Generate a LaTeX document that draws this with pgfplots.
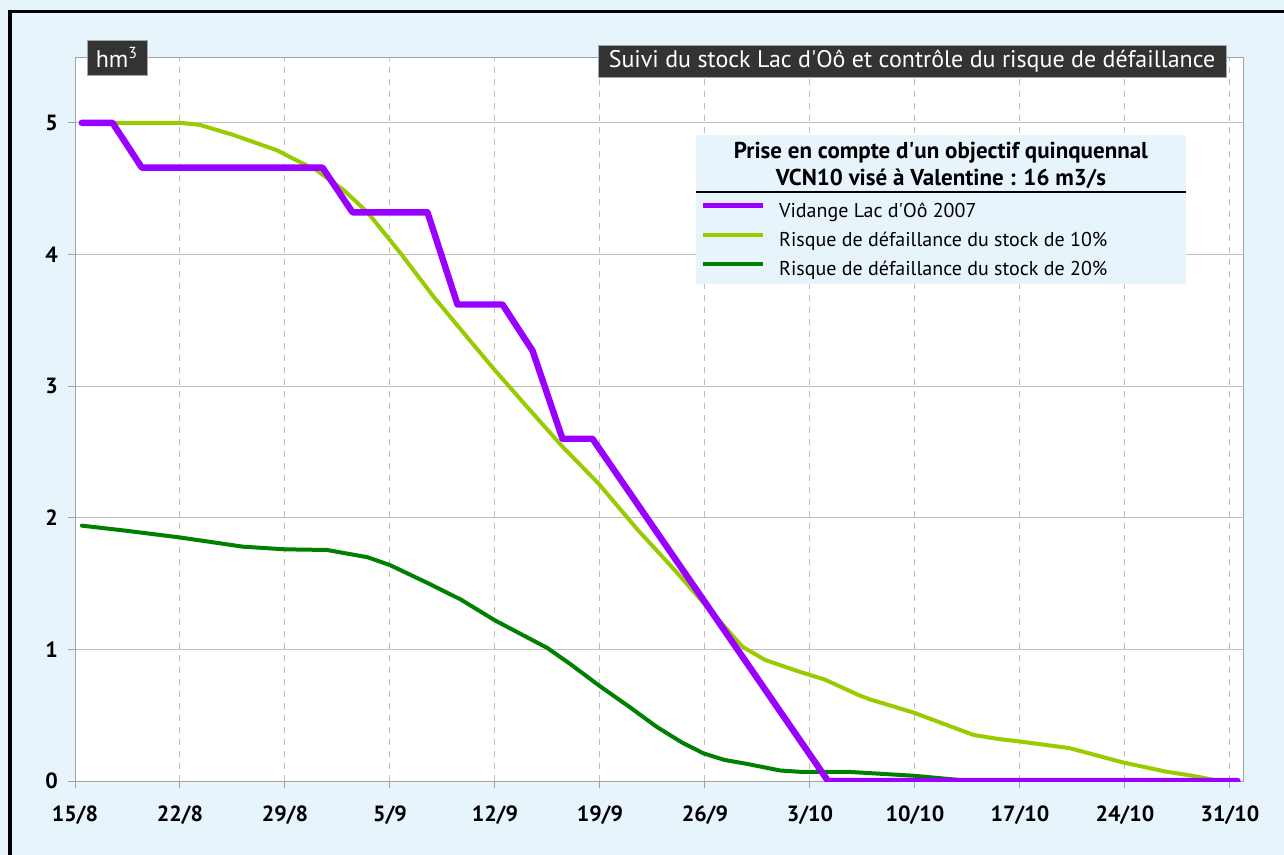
\documentclass[border=0pt]{standalone}
\usepackage{pgfplots}
\pgfplotsset{compat=1.18}
\usepackage{fontspec}
\setmainfont{PT Sans}
\definecolor{bgblue}{RGB}{232,244,252}
\definecolor{vid}{HTML}{9900FF}
\definecolor{rten}{HTML}{99CC00}
\definecolor{rtwenty}{HTML}{008000}
\definecolor{boxgray}{HTML}{333333}
\definecolor{gridgray}{HTML}{C0C0C0}
\begin{document}
\begin{tikzpicture}
\fill[bgblue] (0,0) rectangle (642pt,-427.5pt);
\fill[black] (4pt,-5pt) rectangle (642pt,-6.5pt);
\fill[black] (4pt,-5pt) rectangle (6pt,-427.5pt);
\begin{axis}[
  at={(37.5pt,-390.5pt)}, anchor=south west,
  scale only axis, width=584pt, height=362pt,
  xmin=0, xmax=77.87, ymin=0, ymax=5.5,
  axis background/.style={fill=white},
  axis line style={gridgray!85!black},
  xtick={0,7,...,77},
  xticklabels={15/8,22/8,29/8,5/9,12/9,19/9,26/9,3/10,10/10,17/10,24/10,31/10},
  ytick={0,1,2,3,4,5},
  xtick pos=bottom, ytick pos=left,
  tick align=outside, major tick length=3.5pt,
  tick style={gridgray!85!black, line width=0.5pt},
  xmajorgrids, ymajorgrids,
  major x grid style={gridgray, dash pattern=on 3pt off 3pt, line width=0.5pt},
  major y grid style={gridgray, line width=0.5pt},
  /pgf/number format/assume math mode=true,
  tick label style={font=\fontsize{11}{12}\selectfont\bfseries},
  xticklabel style={yshift=-5.5pt},
  yticklabel style={xshift=-1.5pt},
  legend style={at={(rel axis cs:0.5351,0.8036)}, anchor=north west, draw=none, fill=none,
    font=\fontsize{10}{11}\selectfont, inner sep=0pt,
    nodes={inner sep=0pt, text height=9pt, text depth=3pt}, row sep=2.5pt},
  legend cell align=left,
  legend image code/.code={\draw[#1] (0pt,3pt) -- (30pt,3pt);},
]
\addlegendimage{vid, line width=2.4pt}
\addlegendentry{\hspace{7pt}Vidange Lac d\textquotesingle Oô 2007}
\addlegendimage{rten, line width=2pt}
\addlegendentry{\hspace{7pt}Risque de défaillance du stock de 10\%}
\addlegendimage{rtwenty, line width=2pt}
\addlegendentry{\hspace{7pt}Risque de défaillance du stock de 20\%}

\addplot[rtwenty, line width=2pt, line join=round, line cap=round, forget plot] coordinates {
(0.45,1.94)(3.5,1.90)(7,1.85)(11.2,1.78)(14,1.76)(16.8,1.755)(19.5,1.70)(21,1.64)
(23.4,1.51)(25.7,1.38)(28,1.22)(30,1.10)(31.5,1.01)(33,0.89)(35,0.72)(37,0.56)
(38.8,0.41)(40.5,0.29)(41.9,0.21)(43.3,0.16)(44.8,0.13)(47,0.08)(48.3,0.07)
(51.5,0.07)(55.9,0.04)(59.7,0.0)(77.5,0)};
\addplot[rten, line width=2pt, line join=round, line cap=round, forget plot] coordinates {
(0.45,5.0)(7,5.0)(8.3,4.985)(10.5,4.91)(13.5,4.79)(14.5,4.73)(16.1,4.64)(17.9,4.49)
(19.5,4.32)(21.7,4.01)(23.9,3.68)(26.3,3.35)(28,3.12)(30,2.86)(32.5,2.54)(34.9,2.26)
(37.5,1.91)(40,1.60)(42,1.34)(44.5,1.02)(46,0.92)(48.3,0.83)(50,0.77)(52.3,0.65)
(53,0.62)(55.9,0.52)(59.9,0.35)(61.5,0.32)(63,0.30)(66.3,0.25)(69.9,0.14)(72.8,0.07)
(74.5,0.04)(76.3,0.0)};
\addplot[vid, line width=3.2pt, line join=round, line cap=round, forget plot] coordinates {
(0.45,5)(2.5,5)(4.45,4.66)(16.5,4.66)(18.5,4.32)(23.5,4.32)(25.5,3.62)(28.5,3.62)
(30.5,3.27)(32.5,2.6)(34.5,2.6)(49.6,0.1)(50.2,0)(77.5,0)};

\fill[bgblue] (rel axis cs:0.5317,0.6865) rectangle (rel axis cs:0.9512,0.8923);
\node[font=\fontsize{11.5}{13.5}\selectfont\bfseries, align=center, inner sep=0pt]
  at (rel axis cs:0.7414,0.8508) {Prise en compte d\textquotesingle un objectif quinquennal\\VCN10 visé à Valentine : 16 m3/s};
\draw[black, line width=1pt] (rel axis cs:0.5317,0.8135) -- (rel axis cs:0.9512,0.8135);
\end{axis}
\node[fill=boxgray, draw=gray!70, text=white, minimum width=314pt, minimum height=16pt, inner sep=0pt,
  font=\fontsize{12}{13}\selectfont] at (456pt,-30.5pt) {Suivi du stock Lac d\textquotesingle Oô et contrôle du risque de défaillance};
\node[fill=boxgray, draw=gray!70, text=white, minimum width=30pt, minimum height=17.5pt, inner sep=0pt,
  font=\fontsize{12}{13}\selectfont] at (58.5pt,-28.75pt) {hm\textsuperscript{3}};
\end{tikzpicture}
\end{document}
